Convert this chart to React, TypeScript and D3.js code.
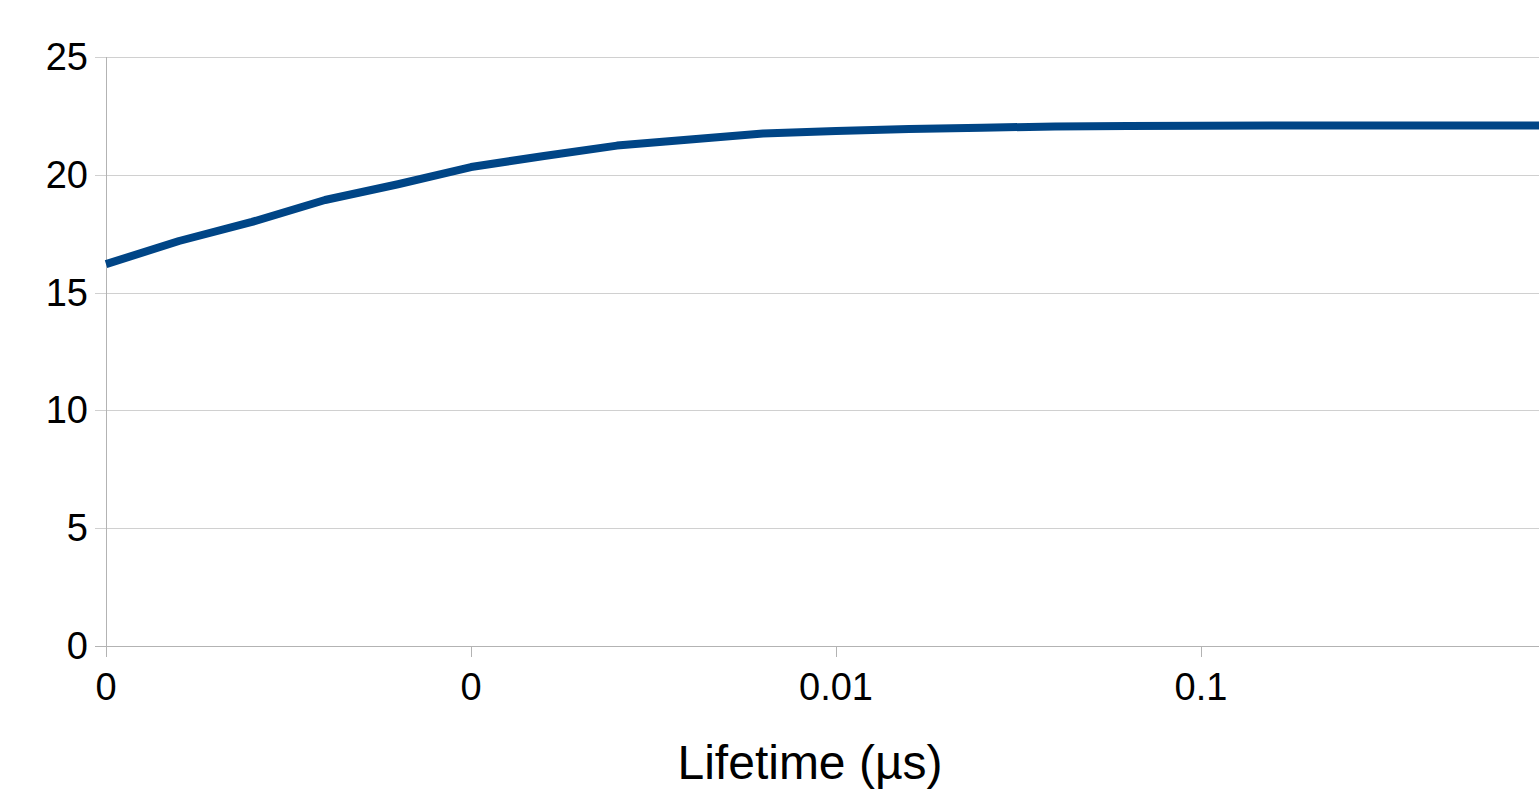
import React, { useEffect, useRef } from "react";
import * as d3 from "d3";

// x positions are 0.2-decade steps from 1e-4 to 1 (µs)
const lifetimes = d3.range(0, 21).map((k) => Math.pow(10, -4 + 0.2 * k));
const values = [
  16.21, 17.19, 18.0, 18.93, 19.6, 20.33, 20.8, 21.24, 21.5, 21.75, 21.86,
  21.94, 22.0, 22.05, 22.07, 22.08, 22.09, 22.09, 22.09, 22.09, 22.09,
];
const xTicks = [0.0001, 0.001, 0.01, 0.1];
const yTicks = [0, 5, 10, 15, 20, 25];

const W = 1539;
const H = 793;
const margin = { top: 57, left: 106, bottom: 147 };

export default function App() {
  const ref = useRef<SVGSVGElement>(null);

  useEffect(() => {
    const svg = d3.select(ref.current);
    svg.selectAll("*").remove();

    const x = d3
      .scaleLog()
      .domain([1e-4, 1])
      .range([margin.left, margin.left + 4 * 365]);
    const y = d3
      .scaleLinear()
      .domain([0, 25])
      .range([H - margin.bottom, margin.top]);

    const font = "'Liberation Sans', Arial, sans-serif";

    // grid lines
    svg
      .append("g")
      .selectAll("line")
      .data(yTicks)
      .join("line")
      .attr("x1", margin.left - 11)
      .attr("x2", W)
      .attr("y1", (d) => Math.round(y(d)) + 0.5)
      .attr("y2", (d) => Math.round(y(d)) + 0.5)
      .attr("stroke", (d) => (d === 0 ? "#b3b3b3" : "#d0d0d0"))
      .attr("stroke-width", 1);

    // y axis line
    svg
      .append("line")
      .attr("x1", margin.left + 0.5)
      .attr("x2", margin.left + 0.5)
      .attr("y1", margin.top)
      .attr("y2", y(0) + 11)
      .attr("stroke", "#b3b3b3");

    // x tick marks
    svg
      .append("g")
      .selectAll("line")
      .data(xTicks)
      .join("line")
      .attr("x1", (d) => Math.round(x(d)) + 0.5)
      .attr("x2", (d) => Math.round(x(d)) + 0.5)
      .attr("y1", y(0))
      .attr("y2", y(0) + 11)
      .attr("stroke", "#b3b3b3");

    // y tick labels
    svg
      .append("g")
      .selectAll("text")
      .data(yTicks)
      .join("text")
      .attr("x", 88)
      .attr("y", (d) => y(d) + 13)
      .attr("text-anchor", "end")
      .style("font", `38px ${font}`)
      .attr("fill", "#000")
      .text((d) => d);

    // x tick labels
    svg
      .append("g")
      .selectAll("text")
      .data(xTicks)
      .join("text")
      .attr("x", (d) => x(d))
      .attr("y", 700)
      .attr("text-anchor", "middle")
      .style("font", `38px ${font}`)
      .attr("fill", "#000")
      .text((d) => String(Math.round(d * 100) / 100));

    // axis title
    svg
      .append("text")
      .attr("x", 810)
      .attr("y", 779)
      .attr("text-anchor", "middle")
      .style("font", `48px ${font}`)
      .attr("fill", "#000")
      .text("Lifetime (µs)");

    // data line
    const line = d3
      .line<number>()
      .x((_, i) => x(lifetimes[i]))
      .y((d) => y(d));

    svg
      .append("path")
      .datum(values)
      .attr("fill", "none")
      .attr("stroke", "#004586")
      .attr("stroke-width", 8)
      .attr("stroke-linejoin", "round")
      .attr("d", line);
  }, []);

  return (
    <div style={{ position: "absolute", left: 0, top: 0, width: W, height: H, overflow: "hidden", background: "#fff" }}>
      <svg ref={ref} width={W} height={H} />
    </div>
  );
}
